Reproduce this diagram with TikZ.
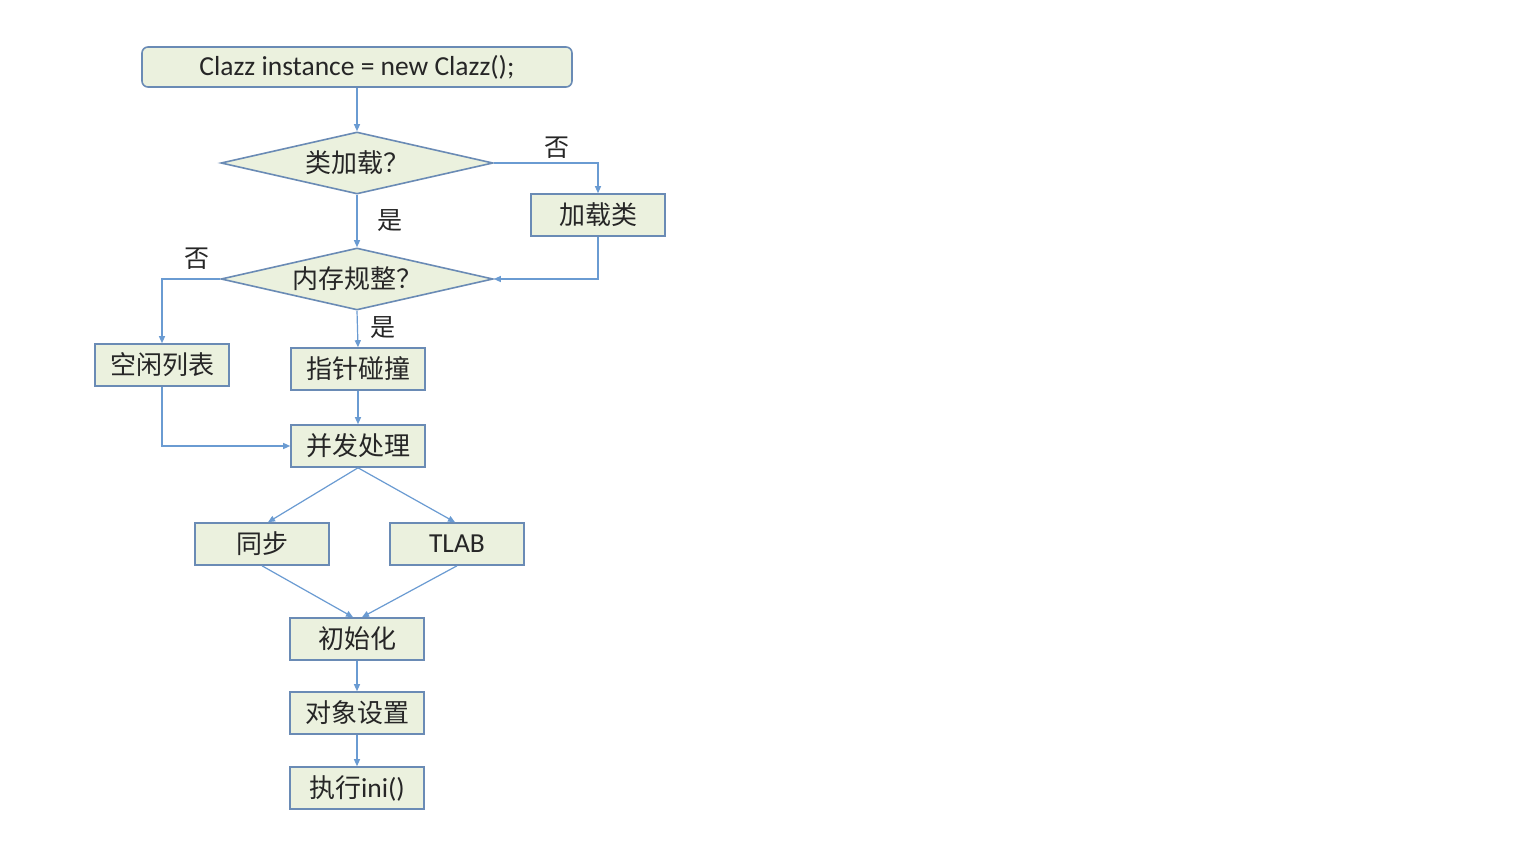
\documentclass[tikz,border=0pt]{standalone}
\usepackage{fontspec}
\setmainfont{Carlito}
\newfontfamily\cjk{Noto Sans CJK SC}
\usetikzlibrary{shapes.geometric,arrows.meta}
\definecolor{boxfill}{HTML}{EBF1DE}
\definecolor{boxline}{HTML}{6A8BB5}
\definecolor{arrowc}{HTML}{6A9BD2}
\tikzset{
  stepbox/.style={draw=boxline, fill=boxfill, line width=1.6pt, minimum width=134pt, minimum height=42pt, inner sep=0pt, font=\cjk\fontsize{26}{30}\selectfont, text=black!85},
  decide/.style={draw=boxline, fill=boxfill, line width=1.6pt, diamond, aspect=4.39, minimum width=272pt, minimum height=62pt, inner sep=0pt, font=\cjk\fontsize{26}{30}\selectfont, text=black!85},
  lab/.style={font=\cjk\fontsize{25}{28}\selectfont, text=black!85, inner sep=0pt},
  conn/.style={draw=arrowc, line width=1.2pt, -{Triangle[length=7pt,width=6pt]}}
}
\begin{document}
\begin{tikzpicture}[x=1pt,y=-1pt]
\useasboundingbox[fill=white] (0,0) rectangle (1538,856);
\node[stepbox, rounded corners=6pt, minimum width=430pt, minimum height=40pt, font=\fontsize{27.5}{30}\selectfont] (top) at (357,67) {Clazz instance = new Clazz();};
\node[decide] (d1) at (357,163) {类加载？};
\node[stepbox] (load) at (598,215) {加载类};
\node[decide] (d2) at (357,279) {内存规整？};
\node[stepbox] (free) at (162,365) {空闲列表};
\node[stepbox] (bump) at (358,369) {指针碰撞};
\node[stepbox] (conc) at (358,446) {并发处理};
\node[stepbox] (sync) at (262,544) {同步};
\node[stepbox, font=\fontsize{27.5}{30}\selectfont] (tlab) at (457,544) {TLAB};
\node[stepbox] (init) at (357,639) {初始化};
\node[stepbox] (obj) at (357,713) {对象设置};
\node[stepbox, font=\fontsize{27.5}{30}\selectfont] (exec) at (357,788) {{\cjk\fontsize{26}{30}\selectfont 执行}ini()};
\node[lab] (n1) at (557,148) {否};
\node[lab] (y1) at (390,221) {是};
\node[lab] (n2) at (197,259) {否};
\node[lab] (y2) at (383,328) {是};
\draw[conn] (top.south) -- (d1.north);
\draw[conn] (d1.east) -| (load.north);
\draw[conn] (load.south) |- (d2.east);
\draw[conn] (d1.south) -- (d2.north);
\draw[conn] (d2.west) -| (free.north);
\draw[conn] (d2.south) -- (bump.north);
\draw[conn] (bump.south) -- (conc.north);
\draw[conn] (free.south) |- (conc.west);
\draw[conn] (conc.south) -- ([xshift=6pt]sync.north);
\draw[conn] (conc.south) -- ([xshift=-2pt]tlab.north);
\draw[conn] (sync.south) -- ([xshift=-4pt]init.north);
\draw[conn] (tlab.south) -- ([xshift=5pt]init.north);
\draw[conn] (init.south) -- (obj.north);
\draw[conn] (obj.south) -- (exec.north);
\end{tikzpicture}
\end{document}
